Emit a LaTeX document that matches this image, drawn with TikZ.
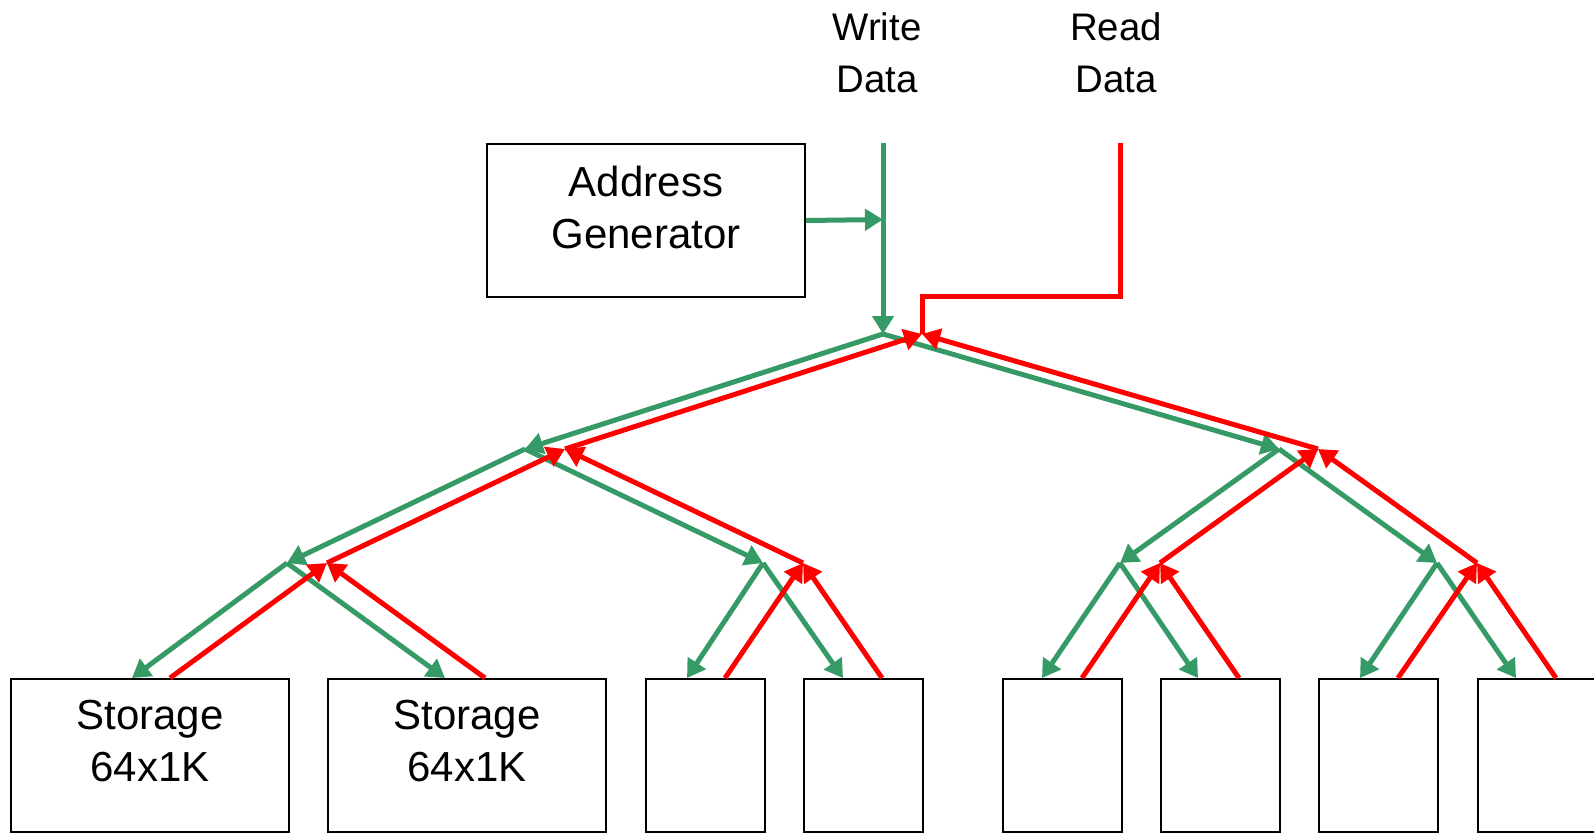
\documentclass[tikz,border=0pt]{standalone}
\usepackage{fontspec}
\setmainfont{Liberation Sans}
\usetikzlibrary{arrows.meta}
\definecolor{wgreen}{RGB}{54,154,102}
\definecolor{rred}{RGB}{255,0,0}

\begin{document}
\begin{tikzpicture}[x=0.5pt,y=-0.5pt,
  blk/.style={draw=black, line width=1pt, anchor=north west, inner sep=0pt,
              minimum height=76.5pt},
  wide/.style={blk, minimum width=139pt},
  narrow/.style={blk, minimum width=59.5pt},
  txt/.style={inner sep=0pt, align=center, font=\fontsize{21}{26}\selectfont},
  toptxt/.style={inner sep=0pt, align=center, font=\fontsize{19.2}{26}\selectfont},
  wline/.style={draw=wgreen, line width=2.5pt},
  warrow/.style={wline, -{Triangle[length=9pt,width=10.5pt]}},
  rline/.style={draw=rred, line width=2.5pt},
  rarrow/.style={rline, -{Triangle[length=9pt,width=10.5pt]}}]

\useasboundingbox (0,0) rectangle (1594,832);
\clip (0,0) rectangle (1594,832);

% storage banks
\node[wide]   (b1) at (10,678)   {};
\node[wide]   (b2) at (327,678)  {};
\node[narrow] (b3) at (645,678)  {};
\node[narrow] (b4) at (803,678)  {};
\node[narrow] (b5) at (1002,678) {};
\node[narrow] (b6) at (1160,678) {};
\node[narrow] (b7) at (1318,678) {};
\node[narrow] (b8) at (1477,678) {};
\node[txt] (t1) at ([yshift=7pt]b1.center) {Storage\\64x1K};
\node[txt] (t2) at ([yshift=7pt]b2.center) {Storage\\64x1K};

% address generator
\node[blk, minimum width=159pt] (ag) at (486,143) {};
\node[txt] (agt) at ([yshift=6.75pt]ag.center) {Address\\Generator};

% port labels
\node[toptxt] (wlab) at (877,52.5)  {Write\\Data};
\node[toptxt] (rlab) at (1116,52.5) {Read\\Data};

% junction points of the tree
\coordinate (wtop) at (883,143);
\coordinate (wj)   at (883,219.5);
\coordinate (g0)   at (883,334);
\coordinate (rtop) at (1120,143);
\coordinate (rc1)  at (1120,296);
\coordinate (rc2)  at (922,296);
\coordinate (r0)   at (922,334);

\coordinate (gL) at (525,449);   \coordinate (rL) at (565,449);
\coordinate (gR) at (1279,449);  \coordinate (rR) at (1318,449);

\coordinate (gLL) at (287,563);  \coordinate (rLL) at (327,563);
\coordinate (gLR) at (763,563);  \coordinate (rLR) at (803,563);
\coordinate (gRL) at (1120,563); \coordinate (rRL) at (1160,563);
\coordinate (gRR) at (1437,563); \coordinate (rRR) at (1477,563);

% bank ports
\coordinate (g1) at (132,678);  \coordinate (r1) at (170,678);
\coordinate (g2) at (445,678);  \coordinate (r2) at (485,678);
\coordinate (g3) at (687,678);  \coordinate (r3) at (725,678);
\coordinate (g4) at (843,678);  \coordinate (r4) at (882,678);
\coordinate (g5) at (1042,678); \coordinate (r5) at (1082,678);
\coordinate (g6) at (1198,678); \coordinate (r6) at (1239,678);
\coordinate (g7) at (1360,678); \coordinate (r7) at (1398,678);
\coordinate (g8) at (1516,678); \coordinate (r8) at (1556,678);

% write path (address + data fan-out)
\draw[warrow] (wtop) -- (g0);
\draw[warrow] (ag.east) -- (wj);
\draw[warrow] (g0) -- (gL);
\draw[warrow] (g0) -- (gR);
\draw[warrow] (gL) -- (gLL);
\draw[warrow] (gL) -- (gLR);
\draw[warrow] (gR) -- (gRL);
\draw[warrow] (gR) -- (gRR);
\draw[warrow] (gLL) -- (g1);
\draw[warrow] (gLL) -- (g2);
\draw[warrow] (gLR) -- (g3);
\draw[warrow] (gLR) -- (g4);
\draw[warrow] (gRL) -- (g5);
\draw[warrow] (gRL) -- (g6);
\draw[warrow] (gRR) -- (g7);
\draw[warrow] (gRR) -- (g8);

% read path (fan-in)
\draw[rline] (rtop) -- (rc1) -- (rc2) -- (r0);
\draw[rarrow] (rL) -- (r0);
\draw[rarrow] (rR) -- (r0);
\draw[rarrow] (rLL) -- (rL);
\draw[rarrow] (rLR) -- (rL);
\draw[rarrow] (rRL) -- (rR);
\draw[rarrow] (rRR) -- (rR);
\draw[rarrow] (r1) -- (rLL);
\draw[rarrow] (r2) -- (rLL);
\draw[rarrow] (r3) -- (rLR);
\draw[rarrow] (r4) -- (rLR);
\draw[rarrow] (r5) -- (rRL);
\draw[rarrow] (r6) -- (rRL);
\draw[rarrow] (r7) -- (rRR);
\draw[rarrow] (r8) -- (rRR);
\end{tikzpicture}
\end{document}
